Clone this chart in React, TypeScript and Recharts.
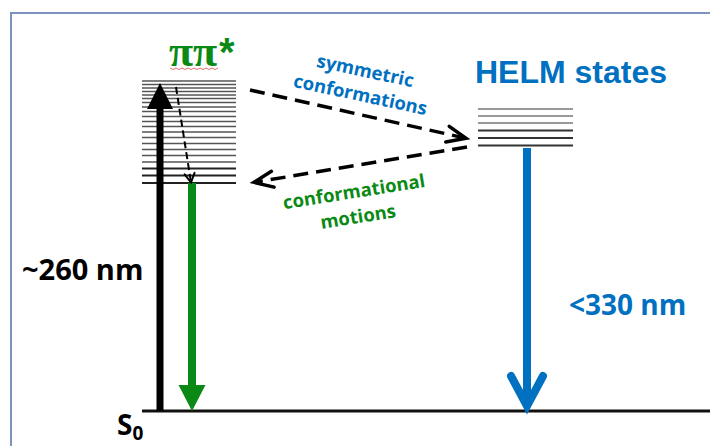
import React from 'react';
import { ComposedChart, XAxis, YAxis, ReferenceLine, ReferenceDot } from 'recharts';

// energy axis: 0 = S0 ground state, x = horizontal position in the diagram
const groundLevel = 0;
const groundSpan = [142, 710];
const pipiSpan = [142, 236];
const helmSpan = [478, 573];

// vibrational sub-levels of the two excited manifolds
const pipiLevels = [330, 326.5, 323, 319.5, 316, 312.5, 308.5, 304, 299.5, 294.5, 289.5, 284.5, 279, 273.5, 267.5, 261.5, 255.5, 249, 242.5, 235.5, 228];
const helmLevels = [302, 295, 288, 280.5, 273, 265.5];

// transitions: [tail, tip]
const absorption = [{ x: 160, y: groundLevel }, { x: 160, y: 328 }];
const pipiEmission = [{ x: 192, y: 228 }, { x: 192, y: groundLevel }];
const helmEmission = [{ x: 527, y: 263 }, { x: 527, y: groundLevel }];
const vibRelax = [{ x: 176, y: 324 }, { x: 191, y: 228.5 }];
const toHelm = [{ x: 250, y: 321 }, { x: 467, y: 272.5 }];
const toPipi = [{ x: 467, y: 264 }, { x: 253, y: 228.5 }];

const GREEN = '#0a8a14';
const BLUE = '#0070c0';

const dir = (p: any) => {
  const dx = p.x2 - p.x1;
  const dy = p.y2 - p.y1;
  const len = Math.sqrt(dx * dx + dy * dy) || 1;
  return { ux: dx / len, uy: dy / len, nx: -dy / len, ny: dx / len };
};

const SolidArrow = (p: any) => {
  const { ux, uy, nx, ny } = dir(p);
  const { shaft, headW, headL, color } = p;
  const bx = p.x2 - ux * headL;
  const by = p.y2 - uy * headL;
  const pts = [
    [p.x1 + nx * shaft / 2, p.y1 + ny * shaft / 2],
    [bx + nx * shaft / 2, by + ny * shaft / 2],
    [bx + nx * headW / 2, by + ny * headW / 2],
    [p.x2, p.y2],
    [bx - nx * headW / 2, by - ny * headW / 2],
    [bx - nx * shaft / 2, by - ny * shaft / 2],
    [p.x1 - nx * shaft / 2, p.y1 - ny * shaft / 2],
  ];
  return <polygon points={pts.map((q) => q.join(',')).join(' ')} fill={color} />;
};

const OpenArrow = (p: any) => {
  const { ux, uy, nx, ny } = dir(p);
  const { width, headW, headL, color, dash, back } = p;
  const tx = p.x2 - ux * back;
  const ty = p.y2 - uy * back;
  const head = [
    [tx - ux * headL + nx * headW, ty - uy * headL + ny * headW],
    [tx, ty],
    [tx - ux * headL - nx * headW, ty - uy * headL - ny * headW],
  ];
  return (
    <g>
      <line x1={p.x1} y1={p.y1} x2={tx - ux * 2} y2={ty - uy * 2} stroke={color} strokeWidth={width} strokeDasharray={dash} />
      <polyline points={head.map((q) => q.join(',')).join(' ')} fill="none" stroke={color} strokeWidth={width}
        strokeLinecap="round" strokeLinejoin="miter" />
    </g>
  );
};

const Label = (p: any) => (
  <text x={p.cx} y={p.cy} textAnchor={p.anchor || 'middle'} fill={p.color} fontFamily={p.font || 'Open Sans'}
    fontWeight="bold" fontSize={p.size} transform={p.rotate ? `rotate(${p.rotate} ${p.cx} ${p.cy})` : undefined}>
    {p.children}
  </text>
);

export default function App() {
  return (
    <div style={{ position: 'absolute', left: 0, top: 0, width: 710, height: 446, background: '#fff' }}>
      <div style={{ position: 'absolute', left: 10, top: 12, width: 700, height: 434,
        borderTop: '2px solid #7b93bd', borderLeft: '2px solid #7b93bd' }} />
      <div style={{ position: 'absolute', left: 0, top: 0 }}>
        <ComposedChart width={710} height={446} data={[]} margin={{ top: 0, right: 0, bottom: 0, left: 0 }}>
          <XAxis type="number" dataKey="x" domain={[0, 710]} hide allowDataOverflow />
          <YAxis type="number" domain={[-35, 411]} hide allowDataOverflow />

          <ReferenceLine segment={[{ x: groundSpan[0], y: groundLevel }, { x: groundSpan[1], y: groundLevel }]}
            stroke="#111" strokeWidth={3} />
          {pipiLevels.map((e, i) => (
            <ReferenceLine key={'p' + i} segment={[{ x: pipiSpan[0], y: e }, { x: pipiSpan[1], y: e }]}
              stroke={i > pipiLevels.length - 4 ? '#222' : '#555'} strokeWidth={i > pipiLevels.length - 4 ? 2 : 1.4} />
          ))}
          {helmLevels.map((e, i) => (
            <ReferenceLine key={'h' + i} segment={[{ x: helmSpan[0], y: e }, { x: helmSpan[1], y: e }]}
              stroke={i > 2 ? '#333' : '#777'} strokeWidth={i > 2 ? 2 : 1.5} />
          ))}

          <ReferenceLine segment={absorption}
            shape={(p: any) => <SolidArrow {...p} shaft={7} headW={26} headL={26} color="#000" />} />
          <ReferenceLine segment={pipiEmission}
            shape={(p: any) => <SolidArrow {...p} shaft={8} headW={27} headL={26} color={GREEN} />} />
          <ReferenceLine segment={helmEmission}
            shape={(p: any) => (
              <g>
                <line x1={p.x1} y1={p.y1} x2={p.x2} y2={p.y2 - 4} stroke={BLUE} strokeWidth={8} />
                <OpenArrow x1={p.x1} y1={p.y1} x2={p.x2} y2={p.y2} width={8} headW={16} headL={30} back={5}
                  color={BLUE} />
              </g>
            )} />
          <ReferenceLine segment={vibRelax}
            shape={(p: any) => <OpenArrow {...p} width={2} headW={5} headL={9} back={0} dash="7 4" color="#000" />} />
          <ReferenceLine segment={toHelm}
            shape={(p: any) => <OpenArrow {...p} width={3.5} headW={8} headL={19} back={1} dash="15 8" color="#000" />} />
          <ReferenceLine segment={toPipi}
            shape={(p: any) => <OpenArrow {...p} width={3.5} headW={8} headL={19} back={1} dash="15 8" color="#000" />} />

          <ReferenceDot x={169} y={345} r={0} shape={(p: any) => (
            <g>
              <Label {...p} anchor="start" size={44} color={GREEN} font="Liberation Serif">ππ</Label>
              <path d={`M${p.cx + 1},${p.cy + 2} ${Array.from({ length: 16 }, (_, k) => `l3,${k % 2 ? -1.5 : 1.5}`).join(' ')}`}
                fill="none" stroke="#e07070" strokeWidth={1} />
            </g>
          )} />
          <ReferenceDot x={219} y={345} r={0} shape={(p: any) => (
            <Label {...p} anchor="start" size={40} color={GREEN} font="Liberation Sans">*</Label>
          )} />
          <ReferenceDot x={475} y={328.5} r={0} shape={(p: any) => (
            <Label {...p} anchor="start" size={32} color={BLUE} font="Liberation Sans">HELM states</Label>
          )} />
          <ReferenceDot x={364} y={334} r={0} shape={(p: any) => (
            <Label {...p} size={18.5} color={BLUE} rotate={12}>symmetric</Label>
          )} />
          <ReferenceDot x={359} y={310} r={0} shape={(p: any) => (
            <Label {...p} size={18.5} color={BLUE} rotate={12}>conformations</Label>
          )} />
          <ReferenceDot x={355} y={213} r={0} shape={(p: any) => (
            <Label {...p} size={18.5} color={GREEN} rotate={-9}>conformational</Label>
          )} />
          <ReferenceDot x={359} y={188} r={0} shape={(p: any) => (
            <Label {...p} size={18.5} color={GREEN} rotate={-9}>motions</Label>
          )} />
          <ReferenceDot x={22} y={131} r={0} shape={(p: any) => (
            <Label {...p} anchor="start" size={29} color="#000">~260 nm</Label>
          )} />
          <ReferenceDot x={569} y={96} r={0} shape={(p: any) => (
            <Label {...p} anchor="start" size={28} color={BLUE}>&lt;330 nm</Label>
          )} />
          <ReferenceDot x={117} y={-24} r={0} shape={(p: any) => (
            <text x={p.cx} y={p.cy} fontFamily="Open Sans" fontWeight="bold" fontSize={28} fill="#000">
              S<tspan fontSize={19} dy={5}>0</tspan>
            </text>
          )} />
        </ComposedChart>
      </div>
    </div>
  );
}
